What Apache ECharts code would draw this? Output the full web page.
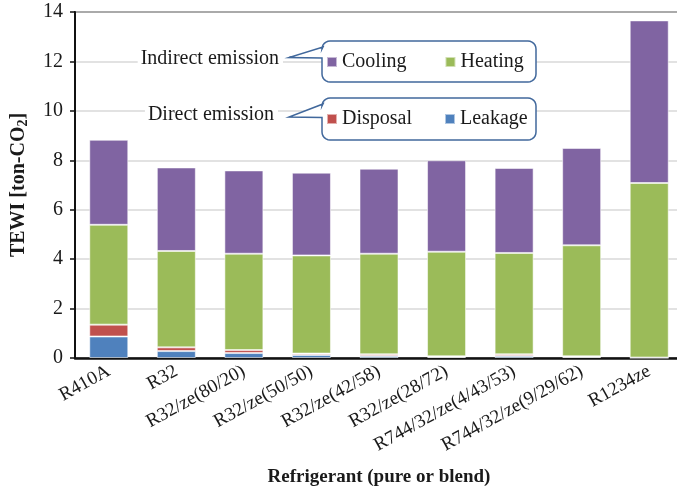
<!DOCTYPE html>
<html>
<head>
<meta charset="utf-8">
<script src="https://cdn.jsdelivr.net/npm/echarts@6/dist/echarts.min.js"></script>
<style>
  html, body { margin: 0; padding: 0; background: #fff; }
  #chart { width: 677px; height: 495px; }
</style>
</head>
<body>
<div id="chart"></div>
<script>
// TEWI breakdown per refrigerant, in ton-CO2
const refrigerants = ['R410A', 'R32', 'R32/ze(80/20)', 'R32/ze(50/50)', 'R32/ze(42/58)',
  'R32/ze(28/72)', 'R744/32/ze(4/43/53)', 'R744/32/ze(9/29/62)', 'R1234ze'];
const leakage  = [0.87, 0.28, 0.20, 0.12, 0.08, 0.04, 0.08, 0.04, 0.01];
const disposal = [0.48, 0.15, 0.12, 0.06, 0.07, 0.03, 0.07, 0.03, 0.01];
const heating  = [4.04, 3.90, 3.90, 3.97, 4.07, 4.23, 4.10, 4.49, 7.06];
const cooling  = [3.44, 3.38, 3.37, 3.35, 3.44, 3.70, 3.44, 3.94, 6.58];
const yTicks = [0, 2, 4, 6, 8, 10, 12, 14];

const serif = '"Liberation Serif", "DejaVu Serif", serif';
const ink = '#1a1a1a';
const colors = { Cooling: '#8064A2', Heating: '#9BBB59', Disposal: '#C0504D', Leakage: '#4F81BD' };
const calloutStroke = '#41689C';

// Outline of a rounded box with a pointer on its left side.
function calloutOutline(x0, y0, x1, y1, r, tipX, tipY, joinTop, joinBottom) {
  const pts = [];
  function arc(cx, cy, a0, a1) {
    for (let i = 0; i <= 6; i++) {
      const a = a0 + (a1 - a0) * i / 6;
      pts.push([cx + r * Math.cos(a), cy + r * Math.sin(a)]);
    }
  }
  arc(x0 + r, y0 + r, Math.PI, 1.5 * Math.PI);      // top-left
  arc(x1 - r, y0 + r, 1.5 * Math.PI, 2 * Math.PI);  // top-right
  arc(x1 - r, y1 - r, 0, 0.5 * Math.PI);            // bottom-right
  arc(x0 + r, y1 - r, 0.5 * Math.PI, Math.PI);      // bottom-left
  pts.push([x0, joinBottom]);
  pts.push([tipX, tipY]);
  pts.push([x0 + 1, joinTop]);
  return pts;
}

const chart = echarts.init(document.getElementById('chart'), null, { renderer: 'canvas' });

function barSeries(name, data) {
  return {
    name: name,
    type: 'bar',
    stack: 'tewi',
    data: data,
    barWidth: 39,
    itemStyle: { color: colors[name], borderColor: 'rgba(255,255,255,0.55)', borderWidth: 1 },
    emphasis: { disabled: true }
  };
}

const legendCommon = {
  orient: 'horizontal',
  icon: 'rect',
  itemWidth: 10,
  itemHeight: 10,
  padding: 0,
  z: 10,
  textStyle: { fontFamily: serif, fontSize: 20, color: ink }
};

chart.setOption({
  animation: false,
  backgroundColor: '#fff',
  grid: {
    left: 75, right: -6, top: 12, bottom: 137,
    outerBoundsMode: 'none',
    containLabel: false,
    show: true, borderColor: '#222', borderWidth: 2, backgroundColor: 'transparent'
  },
  legend: [
    Object.assign({}, legendCommon, { data: ['Cooling', 'Heating'], left: 326, top: 52, itemGap: 38 }),
    Object.assign({}, legendCommon, { data: ['Disposal', 'Leakage'], left: 326, top: 109, itemGap: 32 })
  ],
  xAxis: {
    type: 'category',
    data: refrigerants,
    name: 'Refrigerant (pure or blend)',
    nameLocation: 'middle',
    nameGap: 110,
    nameTextStyle: { fontFamily: serif, fontSize: 19, fontWeight: 'bold', color: ink },
    axisLine: { lineStyle: { color: '#111', width: 2.5 } },
    axisTick: { alignWithLabel: true, length: 5, lineStyle: { color: '#111', width: 1.5 } },
    axisLabel: {
      rotate: 29, margin: 12, interval: 0,
      fontFamily: serif, fontSize: 19, color: ink
    }
  },
  yAxis: {
    type: 'value',
    min: yTicks[0],
    max: yTicks[yTicks.length - 1],
    interval: yTicks[1] - yTicks[0],
    name: '{a|TEWI [ton-CO}{s|2}{a|]}',
    nameLocation: 'middle',
    nameGap: 45,
    nameRotate: 90,
    nameTextStyle: {
      rich: {
        a: { fontFamily: serif, fontSize: 20, fontWeight: 'bold', color: ink },
        s: { fontFamily: serif, fontSize: 14, fontWeight: 'bold', color: ink, padding: [9, 0, 0, 0] }
      }
    },
    axisLine: { show: true, lineStyle: { color: '#111', width: 2 } },
    axisTick: { show: true, length: 5, lineStyle: { color: '#111', width: 1.5 } },
    axisLabel: { fontFamily: serif, fontSize: 20, color: ink, margin: 12 },
    splitLine: { lineStyle: { color: '#d9d9d9', width: 1.5 } }
  },
  graphic: [
    {
      type: 'polygon', z: 3,
      shape: { points: calloutOutline(322, 41, 536, 82, 8, 289, 57.5, 47, 58) },
      style: { fill: '#fff', stroke: calloutStroke, lineWidth: 1.5 }
    },
    {
      type: 'polygon', z: 3,
      shape: { points: calloutOutline(322, 98, 536, 140, 8, 289, 117, 104, 117.5) },
      style: { fill: '#fff', stroke: calloutStroke, lineWidth: 1.5 }
    },
    {
      type: 'text', z: 3, x: 283, y: 59,
      style: {
        text: 'Indirect emission', fontFamily: serif, fontSize: 20, fill: ink,
        align: 'right', verticalAlign: 'middle', backgroundColor: '#fff', padding: [0, 4, 0, 3]
      }
    },
    {
      type: 'text', z: 3, x: 278, y: 115,
      style: {
        text: 'Direct emission', fontFamily: serif, fontSize: 20, fill: ink,
        align: 'right', verticalAlign: 'middle', backgroundColor: '#fff', padding: [0, 4, 0, 3]
      }
    }
  ],
  series: [
    barSeries('Leakage', leakage),
    barSeries('Disposal', disposal),
    barSeries('Heating', heating),
    barSeries('Cooling', cooling)
  ]
});
</script>
</body>
</html>
